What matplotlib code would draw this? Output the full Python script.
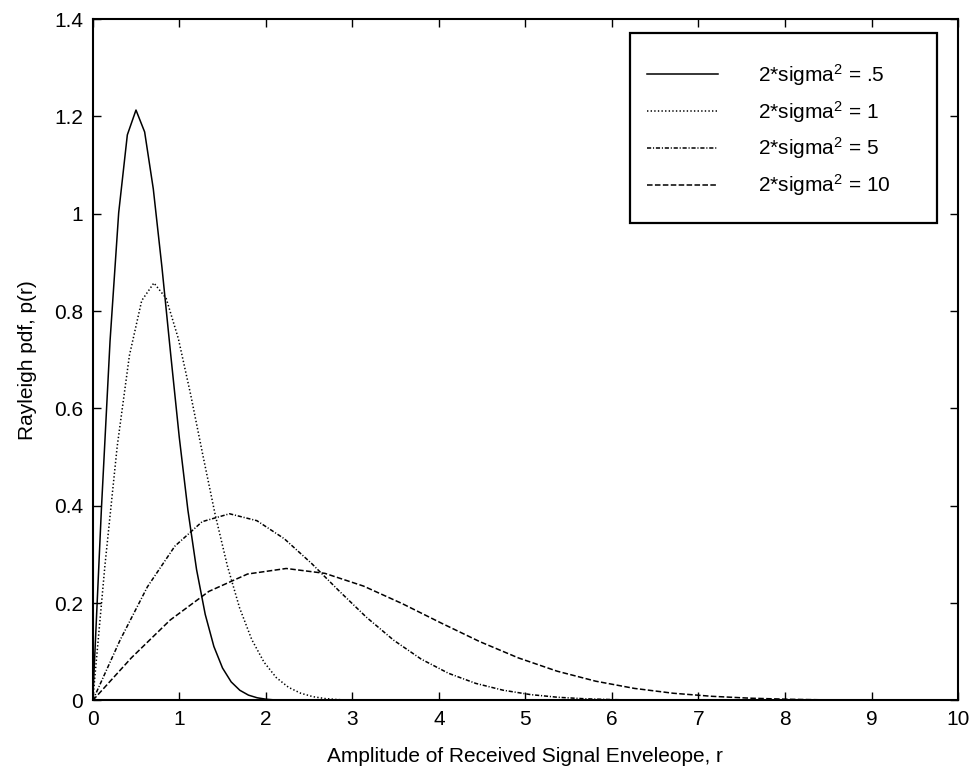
#!/usr/bin/env python3
# -*- coding: utf-8 -*-
# Rayleigh pdf for four values of 2*sigma^2

import matplotlib
matplotlib.use("Agg")
import matplotlib.pyplot as plt
from matplotlib.patches import Rectangle

plt.rcParams["font.family"] = ["Liberation Sans", "DejaVu Sans"]
plt.rcParams["mathtext.fontset"] = "custom"
plt.rcParams["mathtext.rm"] = "Liberation Sans"
plt.rcParams["mathtext.default"] = "regular"
plt.rcParams["lines.scale_dashes"] = False

# ---- data ----
LABELS = [r"2*sigma$^2$ = .5", r"2*sigma$^2$ = 1",
          r"2*sigma$^2$ = 5", r"2*sigma$^2$ = 10"]

R_05 = [0.0, 0.1, 0.2, 0.3, 0.4, 0.5, 0.6, 0.7, 0.8, 0.9, 1.0, 1.1,
        1.2, 1.3, 1.4, 1.5, 1.6, 1.7, 1.8, 1.9, 2.0, 2.1, 2.2]
P_05 = [0.0, 0.392, 0.738, 1.002, 1.162, 1.213, 1.168, 1.051, 0.890, 0.713,
        0.541, 0.391, 0.269, 0.177, 0.111, 0.0667, 0.0382, 0.0210, 0.0110,
        0.0056, 0.0027, 0.0012, 0.0005]

R_1 = [0.0, 0.141, 0.283, 0.424, 0.566, 0.707, 0.849, 0.990, 1.131, 1.273,
       1.414, 1.556, 1.697, 1.838, 1.980, 2.121, 2.263, 2.404, 2.546, 2.687,
       2.828, 2.970, 3.111]
P_1 = [0.0, 0.2772, 0.5222, 0.7088, 0.8215, 0.8578, 0.8261, 0.7431, 0.6291,
       0.5038, 0.3828, 0.2766, 0.1904, 0.1251, 0.0786, 0.0471, 0.0270, 0.0149,
       0.0078, 0.0039, 0.0019, 0.0009, 0.0004]

R_5 = [0.0, 0.316, 0.632, 0.949, 1.265, 1.581, 1.897, 2.214, 2.530, 2.846,
       3.162, 3.479, 3.795, 4.111, 4.427, 4.743, 5.060, 5.376, 5.692, 6.008,
       6.325, 6.641, 6.957]
P_5 = [0.0, 0.1240, 0.2335, 0.3170, 0.3674, 0.3836, 0.3694, 0.3323, 0.2814,
       0.2253, 0.1712, 0.1237, 0.0851, 0.0559, 0.0351, 0.0211, 0.0121, 0.0066,
       0.0035, 0.0018, 0.0008, 0.0004, 0.0002]

R_10 = [0.0, 0.447, 0.894, 1.342, 1.789, 2.236, 2.683, 3.130, 3.578, 4.025,
        4.472, 4.919, 5.367, 5.814, 6.261, 6.708, 7.155, 7.603, 8.050, 8.497,
        8.944, 9.391, 9.839]
P_10 = [0.0, 0.0877, 0.1651, 0.2241, 0.2598, 0.2712, 0.2612, 0.2350, 0.1989,
        0.1593, 0.1210, 0.0875, 0.0602, 0.0396, 0.0248, 0.0149, 0.0086, 0.0047,
        0.0025, 0.0012, 0.0006, 0.0003, 0.0001]

X_TICKS = [0, 1, 2, 3, 4, 5, 6, 7, 8, 9, 10]
Y_TICKS = [0, 0.2, 0.4, 0.6, 0.8, 1.0, 1.2, 1.4]
Y_TICKLABELS = ["0", "0.2", "0.4", "0.6", "0.8", "1", "1.2", "1.4"]

# matlab-ish line styles (points, unscaled)
STYLES = [
    dict(linestyle="-"),
    dict(linestyle=(0, (1.0, 1.6))),
    dict(linestyle=(0, (3.0, 1.3, 0.8, 1.3))),
    dict(linestyle=(0, (4.0, 1.7))),
]

FS = 15


def main():
    fig = plt.figure(figsize=(9.75, 7.73), dpi=100)
    ax = fig.add_axes([0.0951, 0.0938, 0.8875, 0.8816])

    series = [(R_05, P_05), (R_1, P_1), (R_5, P_5), (R_10, P_10)]
    for (x, y), lab, st in zip(series, LABELS, STYLES):
        ax.plot(x, y, color="black", lw=1.1, label=lab, **st)

    ax.set_xlim(0, 10)
    ax.set_ylim(0, 1.4)
    ax.set_xticks(X_TICKS)
    ax.set_xticklabels([str(t) for t in X_TICKS])
    ax.set_yticks(Y_TICKS)
    ax.set_yticklabels(Y_TICKLABELS)
    ax.tick_params(direction="in", length=6, width=1.0, top=True, right=True,
                   labelsize=FS, pad=7)
    for sp in ax.spines.values():
        sp.set_linewidth(1.5)

    ax.set_xlabel("Amplitude of Received Signal Enveleope, r", fontsize=FS,
                  labelpad=13)
    ax.set_ylabel("Rayleigh pdf, p(r)", fontsize=FS, labelpad=12)

    # legend box drawn separately (matlab has large vertical margins)
    box = Rectangle((0.621, 0.7007), 0.3547, 0.2788, transform=ax.transAxes,
                    facecolor="white", edgecolor="black", lw=1.6, zorder=4)
    ax.add_patch(box)
    leg = ax.legend(loc="center left", bbox_to_anchor=(0.629, 0.837),
                    frameon=False, fontsize=FS, borderpad=0,
                    handlelength=3.37, handletextpad=1.92, labelspacing=0.52)
    leg.set_zorder(5)

    fig.savefig("out.png", dpi=100)
    plt.close(fig)


if __name__ == "__main__":
    main()
